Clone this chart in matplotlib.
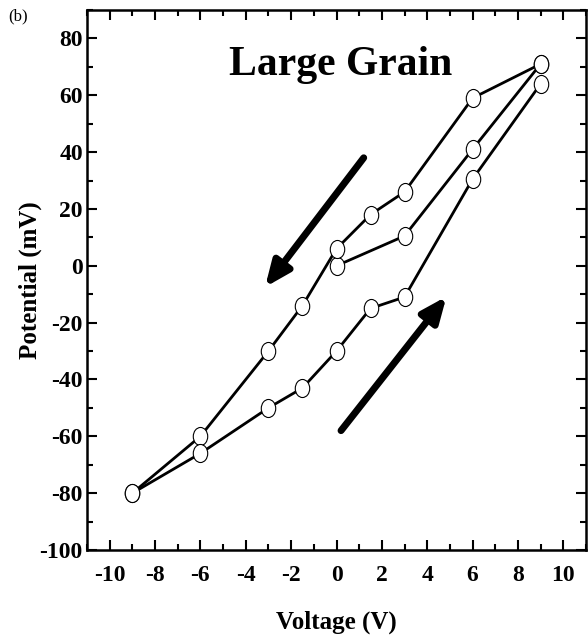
import matplotlib
matplotlib.use("Agg")
import matplotlib.pyplot as plt
from matplotlib.path import Path
from matplotlib.transforms import Affine2D
from matplotlib.ticker import MultipleLocator

plt.rcParams["axes.unicode_minus"] = False

# data
init_v = [0, 3, 6, 9]
init_p = [0, 10.5, 41, 71]

down_v = [9, 6, 3, 1.5, 0, -1.5, -3, -6, -9]
down_p = [71, 59, 26, 18, 6, -14, -30, -60, -80]

up_v = [-9, -6, -3, -1.5, 0, 1.5, 3, 6, 9]
up_p = [-80, -66, -50, -43, -30, -15, -11, 30.5, 64]

# direction arrows (start, tip)
arrow_down = ((1.2, 38), (-3.15, -7.5))
arrow_up = ((0.2, -58), (4.85, -10.8))

xticks = list(range(-10, 11, 2))
yticks = list(range(-100, 81, 20))

serif = ["Liberation Serif", "DejaVu Serif"]

# tall ellipse marker
ellipse = Path.unit_circle().transformed(Affine2D().scale(0.8, 1.0))

fig = plt.figure(figsize=(5.88, 6.41), dpi=100)
ax = fig.add_axes([87 / 588, 1 - 550 / 641, 499 / 588, 540 / 641])

style = dict(color="black", lw=2.0, marker=ellipse, markersize=13,
             markerfacecolor="white", markeredgecolor="black",
             markeredgewidth=0.8)
for v, p in [(init_v, init_p), (down_v, down_p), (up_v, up_p)]:
    ax.plot(v, p, **style)

for start, tip in [arrow_down, arrow_up]:
    ax.annotate("", xy=tip, xytext=start,
                arrowprops=dict(arrowstyle="-|>,head_length=0.75,head_width=0.32",
                                lw=5, color="black", mutation_scale=20,
                                shrinkA=0, shrinkB=0))

ax.text(0.2, 70.5, "Large Grain", family=serif, fontweight="bold",
        fontsize=30, ha="center", va="center")

ax.set_xlim(-11, 11)
ax.set_ylim(-100, 90)
ax.set_xticks(xticks)
ax.set_yticks(yticks)
ax.xaxis.set_minor_locator(MultipleLocator(1))
ax.yaxis.set_minor_locator(MultipleLocator(10))
ax.tick_params(which="both", direction="in", top=True, right=True, width=1.5)
ax.tick_params(which="major", length=7)
ax.tick_params(which="minor", length=4)
ax.tick_params(axis="x", which="major", pad=11)
ax.tick_params(axis="y", which="major", pad=3)
for lab in ax.get_xticklabels() + ax.get_yticklabels():
    lab.set_family(serif)
    lab.set_fontweight("bold")
    lab.set_fontsize(17)
for s in ax.spines.values():
    s.set_linewidth(1.8)

ax.set_xlabel("Voltage (V)", family=serif, fontweight="bold", fontsize=18)
ax.set_ylabel("Potential (mV)", family=serif, fontweight="bold", fontsize=18)
ax.xaxis.set_label_coords(0.5, -0.112)
ax.yaxis.set_label_coords(-0.09, 0.5)

fig.text(8 / 588, 1 - 16 / 641, "(b)", family=serif, fontsize=12,
         ha="left", va="center")

fig.savefig("out.png", dpi=100)
